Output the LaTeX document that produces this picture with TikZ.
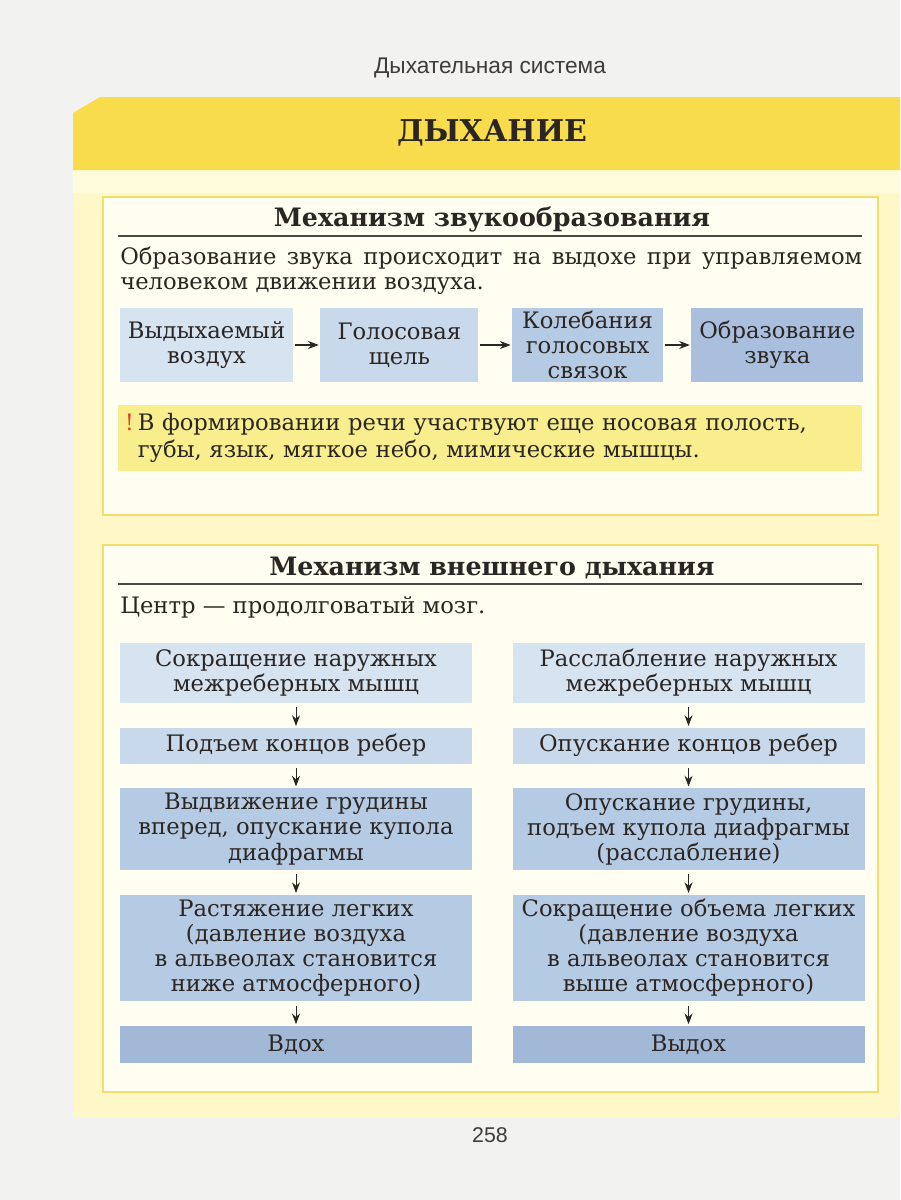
\documentclass[tikz,border=0pt]{standalone}
\usepackage{fontspec}
\setmainfont{DejaVu Serif}
\newfontfamily\headfont{Liberation Sans}
\usetikzlibrary{positioning,arrows.meta}

\definecolor{pagebg}{HTML}{F2F2F0}
\definecolor{bandyel}{HTML}{F9DC4B}
\definecolor{paleyel}{HTML}{FEF8C8}
\definecolor{stripyel}{HTML}{FFFCDC}
\definecolor{frameyel}{HTML}{F2DD6E}
\definecolor{boxbg}{HTML}{FFFEF1}
\definecolor{noteyel}{HTML}{F8EE8E}
\definecolor{ink}{HTML}{2B2623}
\definecolor{excl}{HTML}{E0452B}
\definecolor{blueA}{HTML}{D6E3F1}
\definecolor{blueB}{HTML}{C8D9EC}
\definecolor{blueC}{HTML}{B5CAE3}
\definecolor{blueD}{HTML}{A9BFDD}
\definecolor{blueE}{HTML}{A2B8D7}

\begin{document}
\begin{tikzpicture}[x=0.75pt,y=-0.75pt,>={Stealth[length=8pt,width=6pt]},
    node distance=18pt,
    txt/.style={font=\fontsize{17}{18.8}\selectfont,text=ink,inner sep=0pt},
    heading/.style={font=\bfseries\fontsize{19}{22}\selectfont,text=ink},
    flowbox/.style={txt,fill=#1,align=center,minimum height=55.5pt},
    colbox/.style={txt,fill=#1,align=center,minimum width=264pt},
    frame/.style={draw=frameyel,line width=1.3pt,fill=boxbg},
    rule/.style={draw=ink!85,line width=1.6pt},
    link/.style={->,draw=ink,line width=1pt,shorten >=1pt,shorten <=1pt}]
  % page and yellow panel
  \fill[pagebg] (0,0) rectangle (900,1200);
  \useasboundingbox (0,0) rectangle (900,1200);
  \fill[paleyel] (73,170) rectangle (900,1117);
  \fill[stripyel] (73,170) rectangle (900,193);
  \fill[bandyel] (73,113) -- (100,97) -- (900,97) -- (900,170) -- (73,170) -- cycle;
  \node[font=\headfont\fontsize{17}{20}\selectfont,text=ink!90] (chapter) at (490,68) {Дыхательная система};
  \node[font=\bfseries\fontsize{22.5}{26}\selectfont,text=ink] (main) at (492,133) {ДЫХАНИЕ};
  \node[font=\headfont\fontsize{16}{18}\selectfont,text=ink!90] (page) at (490,1135) {258};

  % --- first frame
  \draw[frame] (103,197) rectangle (878,515);
  \node[heading] (t1) at (492,219) {Механизм звукообразования};
  \draw[rule] (118,236) -- (862,236);
  \node[txt,align=left,anchor=north west] (p1) at (120,247)
    {\makebox[556.5pt][s]{Образование звука происходит на выдохе при управляемом}\\человеком движении воздуха.};
  \node[flowbox=blueA,minimum width=130pt] (b1) at (206.5,345) {Выдыхаемый\\воздух};
  \node[flowbox=blueB,minimum width=118.5pt,right=20pt of b1] (b2) {Голосовая\\щель};
  \node[flowbox=blueC,minimum width=113pt,right=25pt of b2] (b3) {Колебания\\голосовых\\связок};
  \node[flowbox=blueD,minimum width=129pt,right=21pt of b3] (b4) {Образование\\звука};
  \path (b1) edge[link] (b2)
        (b2) edge[link] (b3)
        (b3) edge[link] (b4);
  \node[txt,fill=noteyel,anchor=north west,align=left,text width=548pt,
        minimum height=49pt,inner xsep=5pt,font=\fontsize{17}{20.2}\selectfont] (note) at (118,405)
    {{\color{excl}!}\,В формировании речи участвуют еще носовая полость,\\
     \hphantom{!\,}губы, язык, мягкое небо, мимические мышцы.};

  % --- second frame
  \draw[frame] (103,545) rectangle (878,1092);
  \node[heading] (t2) at (492,568) {Механизм внешнего дыхания};
  \draw[rule] (118,584) -- (862,584);
  \node[txt,anchor=west] (centre) at (120,607) {Центр — продолговатый мозг.};

  % left column: inhale
  \node[colbox=blueA,minimum height=45pt] (l1) at (296,673) {Сокращение наружных\\межреберных мышц};
  \node[colbox=blueB,minimum height=27pt,below=of l1] (l2) {Подъем концов ребер};
  \node[colbox=blueC,minimum height=61.5pt,below=of l2] (l3) {Выдвижение грудины\\вперед, опускание купола\\диафрагмы};
  \node[colbox=blueC,minimum height=80pt,below=of l3] (l4) {Растяжение легких\\(давление воздуха\\в альвеолах становится\\ниже атмосферного)};
  \node[colbox=blueE,minimum height=28pt,below=of l4] (l5) {Вдох};
  % right column: exhale
  \node[colbox=blueA,minimum height=45pt,right=30pt of l1] (r1) {Расслабление наружных\\межреберных мышц};
  \node[colbox=blueB,minimum height=27pt,below=of r1] (r2) {Опускание концов ребер};
  \node[colbox=blueC,minimum height=61.5pt,below=of r2] (r3) {Опускание грудины,\\подъем купола диафрагмы\\(расслабление)};
  \node[colbox=blueC,minimum height=80pt,below=of r3] (r4) {Сокращение объема легких\\(давление воздуха\\в альвеолах становится\\выше атмосферного)};
  \node[colbox=blueE,minimum height=28pt,below=of r4] (r5) {Выдох};
  \foreach \s in {l,r}{
    \foreach \i [evaluate=\i as \j using int(\i+1)] in {1,...,4}
      \path (\s\i) edge[link,line width=0.7pt,shorten <=3pt] (\s\j);
  }
\end{tikzpicture}
\end{document}
